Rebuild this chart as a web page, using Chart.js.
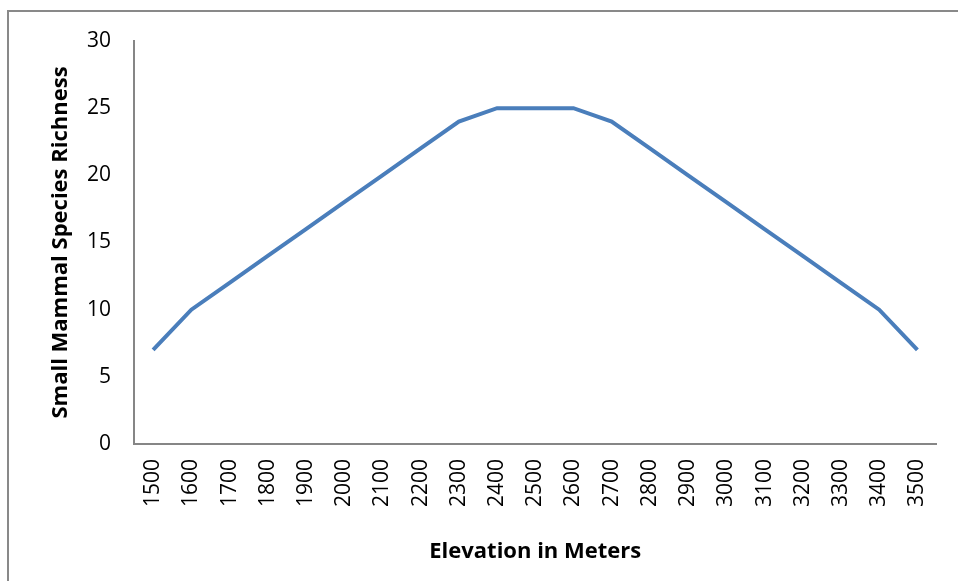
<!DOCTYPE html>
<html>
<head>
<meta charset="utf-8">
<script src="https://cdn.jsdelivr.net/npm/chart.js@4"></script>
<style>
  body { margin: 0; background: #fff; }
  #wrap { position: relative; width: 958px; height: 581px; overflow: hidden; }
  #frame { position: absolute; left: 7px; top: 10px; width: 1000px; height: 1000px;
           border-left: 2px solid #898989; border-top: 2px solid #898989; }
  canvas { position: absolute; left: 0; top: 0; }
</style>
</head>
<body>
<div id="wrap">
  <div id="frame"></div>
  <canvas id="richnessChart" width="958" height="581"></canvas>
</div>
<script>
// elevation bands (m) and species richness
var elevations = ["1500", "1600", "1700", "1800", "1900", "2000", "2100", "2200", "2300", "2400", "2500",
                  "2600", "2700", "2800", "2900", "3000", "3100", "3200", "3300", "3400", "3500"];
var richness = [7, 10, 12, 14, 16, 18, 20, 22, 24, 25, 25, 25, 24, 22, 20, 18, 16, 14, 12, 10, 7];
var yTicks = [0, 5, 10, 15, 20, 25, 30];

var fontFam = "'Open Sans', 'Liberation Sans', sans-serif";

var ctx = document.getElementById("richnessChart");

new Chart(ctx, {
    type: "line",
    data: {
        labels: elevations,
        datasets: [
            {
                label: "Small Mammal Species Richness",
                data: richness,
                borderWidth: 4,
                borderColor: "#4a7ebb",
                pointRadius: 0,
                tension: 0,
            },
        ],
    },
    options: {
        responsive: false,
        animation: false,
        layout: { padding: { left: 48, right: 17, top: 41, bottom: 16 } },
        plugins: { legend: { display: false }, tooltip: { enabled: false } },
        scales: {
            x: {
                offset: true,
                grid: { display: false, drawTicks: false },
                border: { display: true, color: "#868686", width: 2 },
                ticks: {
                    minRotation: 90,
                    maxRotation: 90,
                    autoSkip: false,
                    padding: 15,
                    color: "#000",
                    font: { family: fontFam, size: 21 },
                },
                title: {
                    display: true,
                    text: "Elevation in Meters",
                    color: "#000",
                    font: { family: fontFam, size: 22, weight: "bold" },
                    padding: { top: 0, bottom: 0 },
                },
                afterFit: function(scale) { scale.height = 121; },
            },
            y: {
                min: 0,
                max: 30,
                afterBuildTicks: function(scale) {
                    scale.ticks = yTicks.map(function(v) { return { value: v }; });
                },
                grid: { display: false, drawTicks: false },
                border: { display: true, color: "#868686", width: 2 },
                ticks: {
                    padding: 23,
                    color: "#000",
                    font: { family: fontFam, size: 21 },
                },
                title: {
                    display: true,
                    text: "Small Mammal Species Richness",
                    color: "#000",
                    font: { family: fontFam, size: 22, weight: "bold" },
                    padding: { top: 0, bottom: 0 },
                },
                afterFit: function(scale) { scale.width = 134 - 48; },
            },
        },
    },
});
</script>
</body>
</html>
